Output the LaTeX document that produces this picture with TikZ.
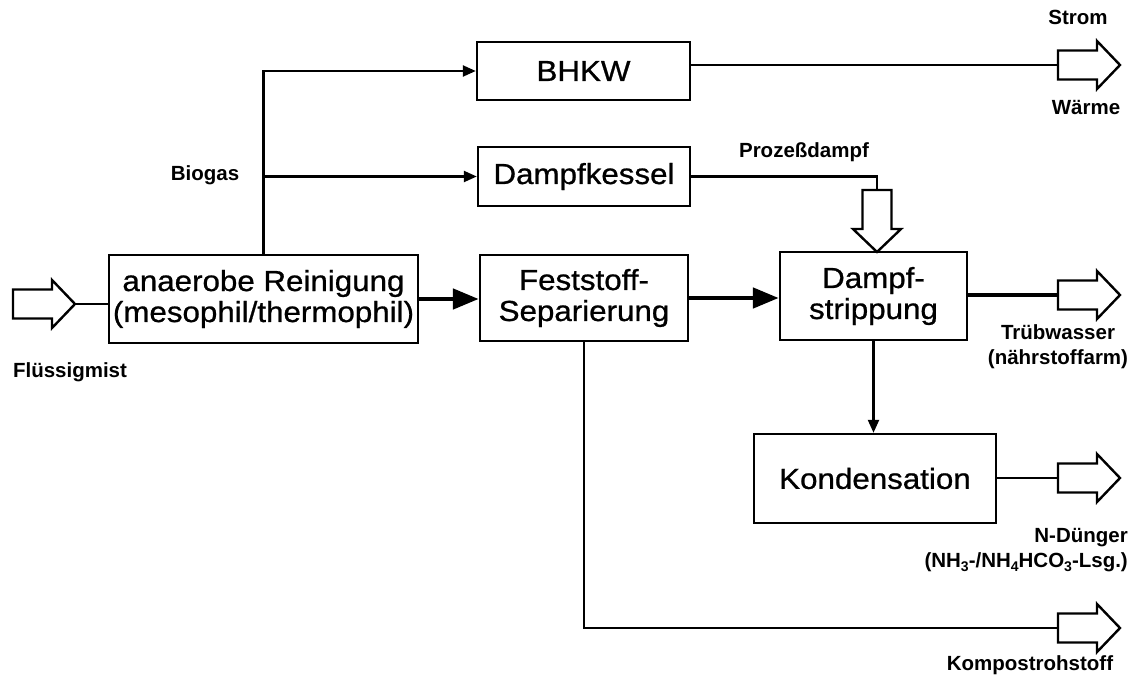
\documentclass[tikz,border=0pt]{standalone}
\usepackage{fontspec}
\setmainfont{Liberation Sans}
\newfontfamily\boxfont[FakeStretch=1.08,FakeBold=0.8]{Liberation Sans}
\usetikzlibrary{arrows.meta}
\newcommand\chsub[1]{\raisebox{-0.35ex}{\fontsize{14}{14}\selectfont #1}}
\begin{document}
\begin{tikzpicture}[x=1pt,y=-1pt,
  box/.style={draw, line width=2.4pt, inner sep=0pt, fill=white,
    font=\boxfont\fontsize{29}{31}\selectfont, align=center},
  lbl/.style={font=\bfseries\fontsize{20.5}{25}\selectfont, inner sep=0pt, align=center},
  thinarr/.style={line width=2.3pt, -{Triangle[length=13pt,width=11pt]}},
  thickarr/.style={line width=4.8pt, -{Triangle[length=26pt,width=20pt]}},
  plainline/.style={line width=2.3pt},
  thickline/.style={line width=4.8pt},
  barrow/.pic={
    \draw[line width=2.4pt, fill=white, line join=miter]
      (0,-14.5) -- (39,-14.5) -- (39,-24) -- (62,0) -- (39,24) -- (39,14.5) -- (0,14.5) -- cycle;
    \coordinate (-tail) at (0,0);
    \coordinate (-tip) at (62,0);
  }]
\useasboundingbox (0,0) rectangle (1136,677);

% boxes
\node[box, minimum width=213, minimum height=58] (bhkw) at (583.5,71) {BHKW};
\node[box, minimum width=212, minimum height=59] (dk) at (584,176.5) {Dampfkessel};
\node[box, minimum width=309, minimum height=88] (an) at (263.5,299) {anaerobe Reinigung\\(mesophil/thermophil)};
\node[box, minimum width=208, minimum height=86] (fs) at (584,298) {Feststoff-\\Separierung};
\node[box, minimum width=187, minimum height=88] (ds) at (873.5,296) {Dampf-\\strippung};
\node[box, minimum width=242, minimum height=89] (ko) at (875,478.5) {Kondensation};

% block arrows
\pic (aFl) at (13,304) {barrow};
\pic (aSW) at (1058,65) {barrow};
\pic (aTr) at (1058,295) {barrow};
\pic (aND) at (1058,478) {barrow};
\pic (aKo) at (1058,628) {barrow};
\pic[rotate=-90] (aPD) at (877,190) {barrow};

% connectors
\draw[plainline] (aFl-tip) -- (an.west |- aFl-tip);
\draw[thinarr] (an.north) |- (bhkw.west);
\draw[thinarr] (an.north |- dk.west) -- (dk.west);
\draw[plainline] (bhkw.east |- aSW-tail) -- (aSW-tail);
\draw[plainline] (dk.east) -| (aPD-tail);
\draw[thickarr] (an.east) -- (an.east -| fs.west);
\draw[thickarr] (fs.east) -- (fs.east -| ds.west);
\draw[thickline] (ds.east |- aTr-tail) -- (aTr-tail);
\draw[thinarr] (ds.south) -- (ds.south |- ko.north);
\draw[plainline] (ko.east |- aND-tail) -- (aND-tail);
\draw[plainline] (fs.south) |- (aKo-tail);

% labels
\node[lbl] (strom) at (1078,17) {Strom};
\node[lbl] (waerme) at (1086,108) {Wärme};
\node[lbl] (biogas) at (205,175) {Biogas};
\node[lbl] (pd) at (804,152) {Prozeßdampf};
\node[lbl] (flu) at (70,372) {Flüssigmist};
\node[lbl] (tr) at (1058,347) {Trübwasser\\(nährstoffarm)};
\node[lbl, align=right, anchor=east] (nd) at (1128,550) {N-Dünger\\(NH\chsub{3}-/NH\chsub{4}HCO\chsub{3}-Lsg.)};
\node[lbl] (kp) at (1030,665) {Kompostrohstoff};
\end{tikzpicture}
\end{document}
